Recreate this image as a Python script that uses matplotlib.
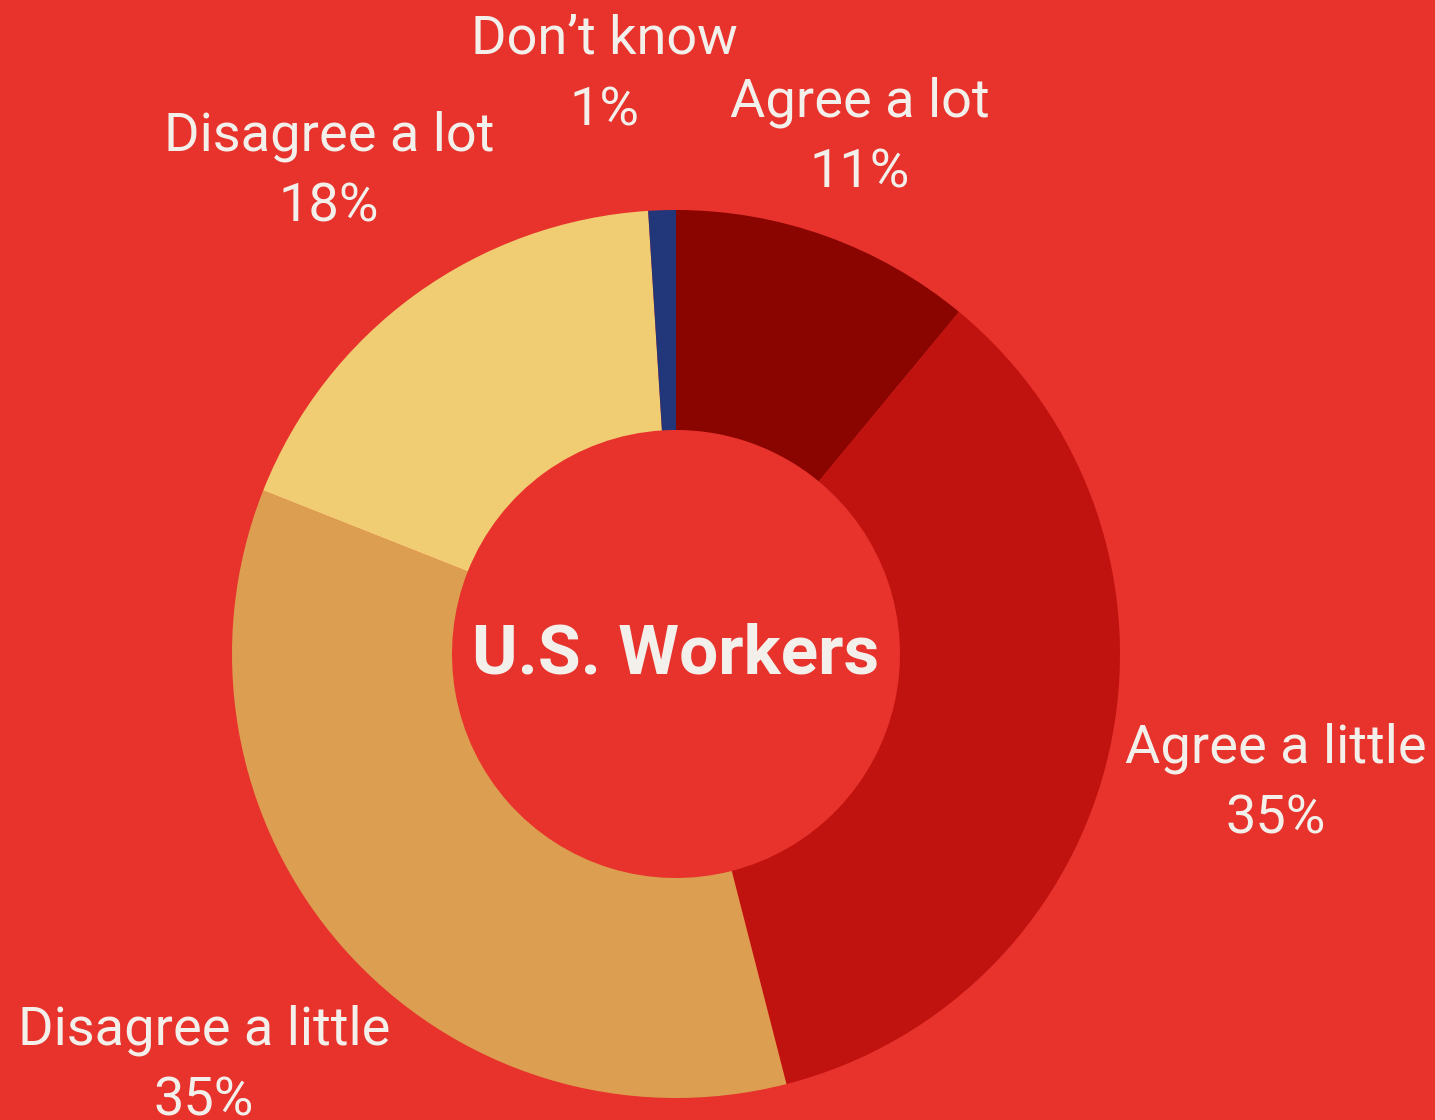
import matplotlib.pyplot as plt
import numpy as np

# data
categories = ['Agree a lot', 'Agree a little', 'Disagree a little', 'Disagree a lot', 'Don\u2019t know']
shares = [11, 35, 35, 18, 1]
center_label = 'U.S. Workers'

colors = ['#8A0400', '#C0120F', '#DC9E50', '#F0CD72', '#22367A']
bg = '#E8322C'
txt = '#F3F0EC'

W, H = 1435, 1120
fig = plt.figure(figsize=(W / 100, H / 100), dpi=100, facecolor=bg)
ax = fig.add_axes([0, 0, 1, 1])
ax.set_facecolor(bg)

cx, cy = 676, H - 654
R = 444
ring = 220

ax.pie(shares, colors=colors, startangle=90, counterclock=False,
       center=(cx, cy), radius=R, frame=True,
       wedgeprops=dict(width=ring, linewidth=0))
ax.set_xlim(0, W)
ax.set_ylim(0, H)
ax.set_aspect('equal')
ax.axis('off')

# label layout (x centre, baseline of name line) in pixels from top
label_pos = [(860, 117), (1276, 763), (204, 1044), (329, 151), (604, 54)]
line_gap = 71

for name, val, (lx, ly) in zip(categories, shares, label_pos):
    ax.text(lx, H - ly, name, ha='center', va='baseline', color=txt,
            fontsize=39, family='Roboto', fontweight='normal')
    ax.text(lx, H - ly - line_gap, f'{val}%', ha='center', va='baseline', color=txt,
            fontsize=39, family='Roboto', fontweight='normal')

ax.text(cx, H - 673, center_label, ha='center', va='baseline', color=txt,
        fontsize=50, family='Roboto', fontweight='bold')

fig.savefig('out.png', dpi=100, facecolor=bg)
